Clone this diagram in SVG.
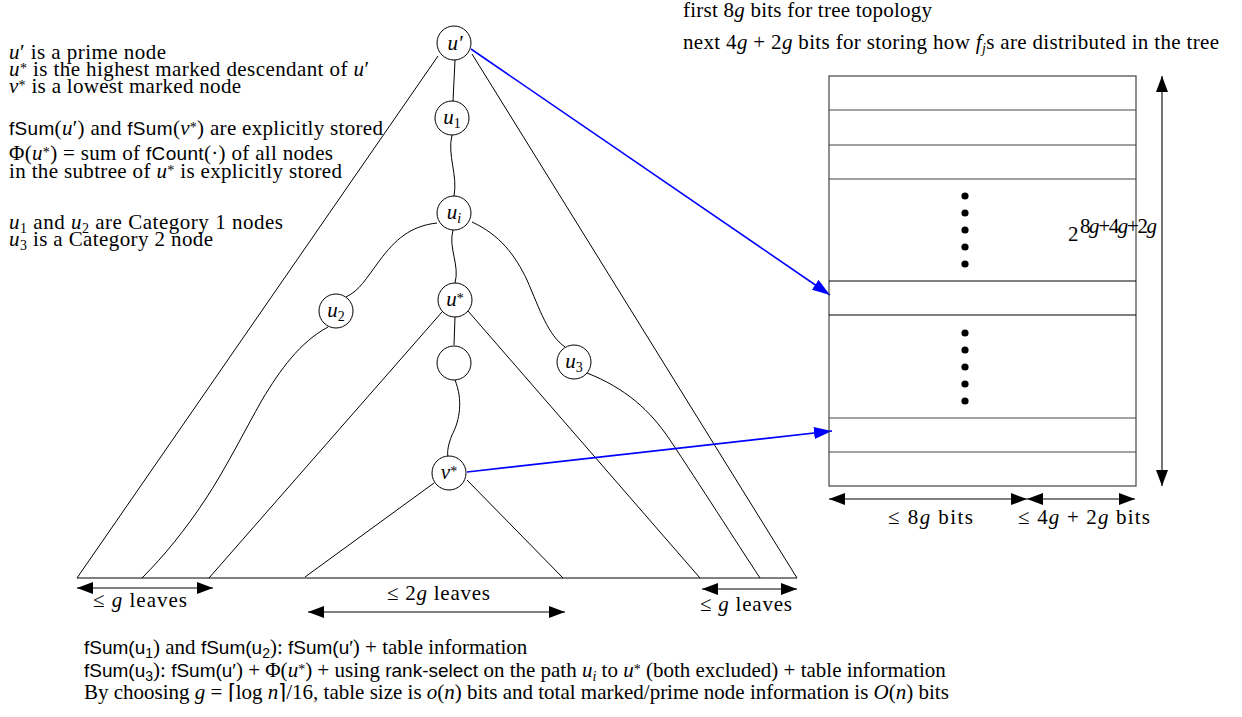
<svg xmlns="http://www.w3.org/2000/svg" width="1242" height="717" viewBox="0 0 1242 717">
<style>
.t{font-family:"Liberation Serif",serif;font-size:21px;fill:#000}
.i{font-style:italic}
.sf{font-family:"Liberation Sans",sans-serif;font-size:19px}
.sub{font-size:14px}
.edge{fill:none;stroke:#000;stroke-width:1}
.blue{fill:none;stroke:#0000ff;stroke-width:1.6}
.nd{fill:#fff;stroke:#000;stroke-width:1}
.nl{font-family:"Liberation Serif",serif;font-size:21px;font-style:italic;text-anchor:middle}
.tb{fill:none;stroke:#444;stroke-width:1.2}
.dim{fill:none;stroke:#000;stroke-width:1.1}
</style>
<defs>
<marker id="ah" viewBox="0 0 16 12" refX="16" refY="6" markerWidth="16" markerHeight="12" markerUnits="userSpaceOnUse" orient="auto-start-reverse"><path d="M0,0 L16,6 L0,12 z" fill="#000"/></marker>
<marker id="bh" viewBox="0 0 18 12" refX="18" refY="6" markerWidth="18" markerHeight="12" markerUnits="userSpaceOnUse" orient="auto"><path d="M0,0 L18,6 L0,12 z" fill="#0000ff"/></marker>
</defs>
<rect width="1242" height="717" fill="#fff"/>

<g id="connectors">
<path class="edge" d="M438,56 L77,578"/>
<path class="edge" d="M472,54 L797,578"/>
<path class="edge" d="M77,578 L797,578"/>
<path class="edge" d="M455,60 L453,101"/>
<path class="edge" d="M452,135 C447,155 458,175 454,196"/>
<path class="edge" d="M437,223 C410,226 395,240 380,260 C365,280 360,290 346,297"/>
<path class="edge" d="M453,230 C448,248 460,265 455,283"/>
<path class="edge" d="M472,222 C500,235 515,255 527,280 C540,310 548,335 565,347"/>
<path class="edge" d="M328,327 C300,342 280,370 262,400 C245,430 225,470 205,500 C185,530 165,555 142,578"/>
<path class="edge" d="M442,312 L209,578"/>
<path class="edge" d="M468,311 L700,578"/>
<path class="edge" d="M455,317 L454,345"/>
<path class="edge" d="M455,380 C463,400 460,420 452,435 C448,445 447,452 448,457"/>
<path class="edge" d="M434,483 L305,577"/>
<path class="edge" d="M467,480 L563,578"/>
<path class="edge" d="M587,373 C625,388 650,410 670,440 C700,485 735,540 760,578"/>
<path class="blue" d="M471,49 L830,295" marker-end="url(#bh)"/>
<path class="blue" d="M467,472 L832,431" marker-end="url(#bh)"/>
</g>

<g id="n-uprime"><circle class="nd" cx="454" cy="43" r="17"/><text class="nl" x="455" y="50">u′</text></g>
<g id="n-u1"><circle class="nd" cx="452" cy="118" r="17"/><text class="nl" x="452" y="124">u<tspan class="sub" font-style="normal" dy="4">1</tspan></text></g>
<g id="n-ui"><circle class="nd" cx="454" cy="213" r="17"/><text class="nl" x="454" y="219">u<tspan class="sub" dy="4">i</tspan></text></g>
<g id="n-u2"><circle class="nd" cx="336" cy="311" r="17"/><text class="nl" x="336" y="317">u<tspan class="sub" font-style="normal" dy="4">2</tspan></text></g>
<g id="n-ustar"><circle class="nd" cx="455" cy="300" r="17"/><text class="nl" x="455" y="306">u<tspan class="sub" font-style="normal" dy="-3">*</tspan></text></g>
<g id="n-empty"><circle class="nd" cx="454" cy="363" r="17"/></g>
<g id="n-u3"><circle class="nd" cx="574" cy="362" r="17"/><text class="nl" x="574" y="368">u<tspan class="sub" font-style="normal" dy="4">3</tspan></text></g>
<g id="n-vstar"><circle class="nd" cx="449" cy="473" r="17"/><text class="nl" x="449" y="479">v<tspan class="sub" font-style="normal" dy="-3">*</tspan></text></g>

<g id="table">
<rect class="tb" x="829" y="76" width="307" height="410"/>
<path class="tb" d="M829,110 H1136 M829,145 H1136 M829,179 H1136 M829,418 H1136 M829,452 H1136"/>
<path d="M829,281 H1136 M829,315 H1136" stroke="#000" stroke-width="1.2"/>
<g fill="#000">
<circle cx="965" cy="196" r="3.6"/><circle cx="965" cy="213" r="3.6"/><circle cx="965" cy="230" r="3.6"/><circle cx="965" cy="247" r="3.6"/><circle cx="965" cy="264" r="3.6"/>
<circle cx="965" cy="333" r="3.6"/><circle cx="965" cy="350" r="3.6"/><circle cx="965" cy="367" r="3.6"/><circle cx="965" cy="384" r="3.6"/><circle cx="965" cy="401" r="3.6"/>
</g>
<text class="t" x="1068" y="241">2</text>
<text class="t" x="1080" y="233" font-size="14" textLength="77">8<tspan class="i">g</tspan>+4<tspan class="i">g</tspan>+2<tspan class="i">g</tspan></text>
</g>

<g id="dimensions">
<path class="dim" d="M1162,76 L1162,486" marker-start="url(#ah)" marker-end="url(#ah)"/>
<path class="dim" d="M829,499 L1027,499" marker-start="url(#ah)" marker-end="url(#ah)"/>
<path class="dim" d="M1027,499 L1135,499" marker-start="url(#ah)" marker-end="url(#ah)"/>
<text class="t" x="888" y="524" textLength="85">≤ 8<tspan class="i">g</tspan> bits</text>
<text class="t" x="1018" y="524" textLength="132">≤ 4<tspan class="i">g</tspan> + 2<tspan class="i">g</tspan> bits</text>
<path class="dim" d="M77,588 L213,588" marker-start="url(#ah)" marker-end="url(#ah)"/>
<path class="dim" d="M308,612 L565,612" marker-start="url(#ah)" marker-end="url(#ah)"/>
<path class="dim" d="M702,589 L797,589" marker-start="url(#ah)" marker-end="url(#ah)"/>
<text class="t" x="93" y="607" textLength="94">≤ <tspan class="i">g</tspan> leaves</text>
<text class="t" x="387" y="600" textLength="103">≤ 2<tspan class="i">g</tspan> leaves</text>
<text class="t" x="700" y="611" textLength="92">≤ <tspan class="i">g</tspan> leaves</text>
</g>

<g id="top-notes">
<text class="t" x="683" y="17" textLength="249">first 8<tspan class="i">g</tspan> bits for tree topology</text>
<text class="t" x="683" y="49" textLength="536">next 4<tspan class="i">g</tspan> + 2<tspan class="i">g</tspan> bits for storing how <tspan class="i">f</tspan><tspan class="sub i" dy="4">j</tspan><tspan dy="-4">s are distributed in the tree</tspan></text>
</g>

<g id="left-notes">
<text class="t" x="9" y="59" textLength="157"><tspan class="i">u</tspan>′ is a prime node</text>
<text class="t" x="9" y="76" textLength="360"><tspan class="i">u</tspan><tspan class="sub" dy="-3">*</tspan><tspan dy="3"> is the highest marked descendant of </tspan><tspan class="i">u</tspan>′</text>
<text class="t" x="9" y="93" textLength="232"><tspan class="i">v</tspan><tspan class="sub" dy="-3">*</tspan><tspan dy="3"> is a lowest marked node</tspan></text>
<text class="t" x="9" y="135" textLength="374"><tspan class="sf">fSum</tspan>(<tspan class="i">u</tspan>′) and <tspan class="sf">fSum</tspan>(<tspan class="i">v</tspan><tspan class="sub" dy="-3">*</tspan><tspan dy="3">) are explicitly stored</tspan></text>
<text class="t" x="9" y="160" textLength="324">Φ(<tspan class="i">u</tspan><tspan class="sub" dy="-3">*</tspan><tspan dy="3">) = sum of </tspan><tspan class="sf">fCount</tspan>(·) of all nodes</text>
<text class="t" x="9" y="178" textLength="333">in the subtree of <tspan class="i">u</tspan><tspan class="sub" dy="-3">*</tspan><tspan dy="3"> is explicitly stored</tspan></text>
<text class="t" x="9" y="229" textLength="274"><tspan class="i">u</tspan><tspan class="sub" dy="4">1</tspan><tspan dy="-4"> and </tspan><tspan class="i">u</tspan><tspan class="sub" dy="4">2</tspan><tspan dy="-4"> are Category 1 nodes</tspan></text>
<text class="t" x="9" y="246" textLength="204"><tspan class="i">u</tspan><tspan class="sub" dy="4">3</tspan><tspan dy="-4"> is a Category 2 node</tspan></text>
</g>

<g id="bottom-notes">
<text class="t" x="84" y="654"><tspan class="sf">fSum(u</tspan><tspan class="sf sub" dy="4">1</tspan><tspan dy="-4">) and </tspan><tspan class="sf">fSum(u</tspan><tspan class="sf sub" dy="4">2</tspan><tspan dy="-4">): </tspan><tspan class="sf">fSum(u′</tspan>) + table information</text>
<text class="t" x="84" y="677"><tspan class="sf">fSum(u</tspan><tspan class="sf sub" dy="4">3</tspan><tspan dy="-4">): </tspan><tspan class="sf">fSum(u′</tspan>) + Φ(<tspan class="i">u</tspan><tspan class="sub" dy="-3">*</tspan><tspan dy="3">) + using </tspan><tspan class="sf">rank-select</tspan> on the path <tspan class="i">u</tspan><tspan class="sub i" dy="4">i</tspan><tspan dy="-4"> to </tspan><tspan class="i">u</tspan><tspan class="sub" dy="-3">*</tspan><tspan dy="3"> (both excluded) + table information</tspan></text>
<text class="t" x="84" y="699">By choosing <tspan class="i">g</tspan> = ⌈log <tspan class="i">n</tspan>⌉/16, table size is <tspan class="i">o</tspan>(<tspan class="i">n</tspan>) bits and total marked/prime node information is <tspan class="i">O</tspan>(<tspan class="i">n</tspan>) bits</text>
</g>
</svg>
